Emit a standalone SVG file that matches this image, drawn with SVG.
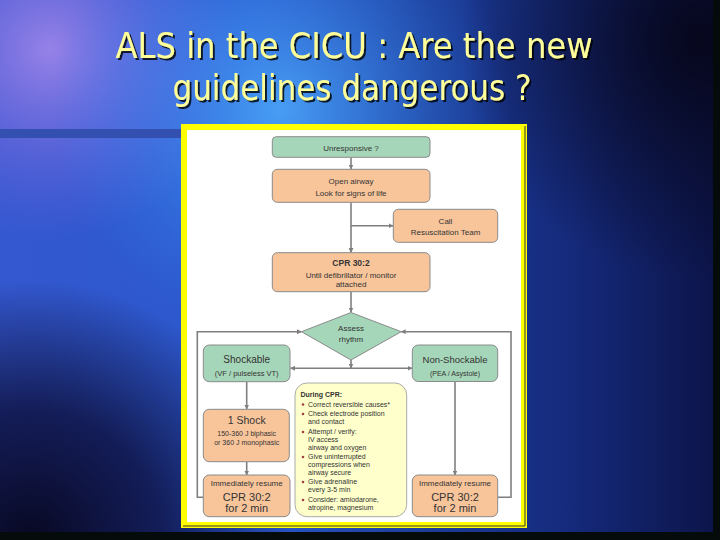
<svg xmlns="http://www.w3.org/2000/svg" width="720" height="540" viewBox="0 0 720 540">
<defs>
<linearGradient id="bg" x1="0" y1="0" x2="1" y2="0">
<stop offset="0" stop-color="#3458d0"/>
<stop offset="0.35" stop-color="#2a58cc"/>
<stop offset="0.6" stop-color="#1c3c98"/>
<stop offset="0.8" stop-color="#15297a"/>
<stop offset="1" stop-color="#0c1448"/>
</linearGradient>
<radialGradient id="purple" cx="50" cy="50" r="190" gradientUnits="userSpaceOnUse">
<stop offset="0" stop-color="#b890f0" stop-opacity="0.75"/>
<stop offset="1" stop-color="#8060e0" stop-opacity="0"/>
</radialGradient>
<radialGradient id="cyan" cx="280" cy="110" r="230" gradientUnits="userSpaceOnUse">
<stop offset="0" stop-color="#50b0ff" stop-opacity="0.8"/>
<stop offset="1" stop-color="#3080f0" stop-opacity="0"/>
</radialGradient>
<radialGradient id="darkbl" cx="30" cy="540" r="260" gradientUnits="userSpaceOnUse">
<stop offset="0" stop-color="#080822" stop-opacity="1"/>
<stop offset="0.5" stop-color="#0c0e3a" stop-opacity="0.8"/>
<stop offset="1" stop-color="#0a0a30" stop-opacity="0"/>
</radialGradient>
<radialGradient id="darktr" cx="700" cy="40" r="240" gradientUnits="userSpaceOnUse">
<stop offset="0" stop-color="#06061a" stop-opacity="0.95"/>
<stop offset="1" stop-color="#06061a" stop-opacity="0"/>
</radialGradient>
<marker id="ah" viewBox="0 0 10 10" refX="9" refY="5" markerWidth="5" markerHeight="5" orient="auto" markerUnits="userSpaceOnUse">
<path d="M0,0 L10,5 L0,10 z" fill="#7f7f7f"/>
</marker>
<filter id="sh" x="-5%" y="-20%" width="110%" height="140%">
<feDropShadow dx="2" dy="2" stdDeviation="0.6" flood-color="#000" flood-opacity="0.8"/>
</filter>
</defs>
<style>
.t{font-family:"Liberation Sans",Arial,sans-serif;fill:#333;text-anchor:middle}
.l{font-family:"Liberation Sans",Arial,sans-serif;fill:#333;font-size:7px}
.g{fill:#a6d6b9;stroke:#8a8a8a;stroke-width:1}
.o{fill:#f8c59b;stroke:#8a8a8a;stroke-width:1}
.y{fill:#ffffcc;stroke:#aaaaaa;stroke-width:1}
.c{fill:none;stroke:#7f7f7f;stroke-width:1.6}
.title{font-family:"DejaVu Sans Condensed","DejaVu Sans",sans-serif;font-size:35px;fill:#ffff99;text-anchor:middle}
</style>
<rect width="720" height="540" fill="url(#bg)"/>
<rect width="720" height="540" fill="url(#purple)"/>
<rect width="720" height="540" fill="url(#cyan)"/>
<rect width="720" height="540" fill="url(#darkbl)"/>
<rect width="720" height="540" fill="url(#darktr)"/>
<rect x="0" y="532" width="720" height="8" fill="#050a0a"/>
<rect x="713" y="0" width="7" height="540" fill="#050a0a"/>
<rect x="0" y="129" width="181" height="9" fill="#3350b0"/>

<g id="title" filter="url(#sh)">
<text class="title" x="354" y="58" textLength="477" lengthAdjust="spacingAndGlyphs">ALS in the CICU : Are the new</text>
<text class="title" x="352" y="100" textLength="359" lengthAdjust="spacingAndGlyphs">guidelines dangerous ?</text>
</g>

<g id="frame">
<rect x="181" y="124" width="346" height="404" fill="#ffff00"/>
<path d="M525,126 V526 H183" fill="none" stroke="#333" stroke-width="1"/>
<rect x="187" y="130" width="334" height="392" fill="#ffffff"/>
</g>

<g id="connectors">
<line class="c" x1="351" y1="157.5" x2="351" y2="169" marker-end="url(#ah)"/>
<line class="c" x1="351" y1="202.5" x2="351" y2="252.5" marker-end="url(#ah)"/>
<line class="c" x1="351" y1="225.7" x2="393" y2="225.7" marker-end="url(#ah)"/>
<line class="c" x1="351" y1="291.7" x2="351" y2="312" marker-end="url(#ah)"/>
<line class="c" x1="351" y1="360" x2="351" y2="368" marker-end="url(#ah)"/>
<line class="c" x1="351" y1="368.3" x2="290.5" y2="368.3" marker-end="url(#ah)"/>
<line class="c" x1="351" y1="368.3" x2="412" y2="368.3" marker-end="url(#ah)"/>
<line class="c" x1="246.7" y1="381.7" x2="246.7" y2="409" marker-end="url(#ah)"/>
<line class="c" x1="246.7" y1="461.7" x2="246.7" y2="475" marker-end="url(#ah)"/>
<line class="c" x1="455" y1="381.5" x2="455" y2="475" marker-end="url(#ah)"/>
<polyline class="c" points="203,497.3 197.3,497.3 197.3,331.7 301.5,331.7" marker-end="url(#ah)"/>
<polyline class="c" points="497.7,497.3 511,497.3 511,331.7 401.2,331.7" marker-end="url(#ah)"/>
</g>

<g id="unresponsive">
<rect class="g" x="272.3" y="136.7" width="157.7" height="20.6" rx="4"/>
<text class="t" x="351" y="151" font-size="8">Unresponsive ?</text>
</g>
<g id="open-airway">
<rect class="o" x="272.3" y="169.3" width="157.7" height="33" rx="5"/>
<text class="t" x="351" y="183.5" font-size="8">Open airway</text>
<text class="t" x="351" y="195.5" font-size="8">Look for signs of life</text>
</g>
<g id="call-team">
<rect class="o" x="393.3" y="209.3" width="104.4" height="33" rx="5"/>
<text class="t" x="445.5" y="223.5" font-size="8">Call</text>
<text class="t" x="445.5" y="235" font-size="8">Resuscitation Team</text>
</g>
<g id="cpr">
<rect class="o" x="272.3" y="252.7" width="157.7" height="39" rx="5"/>
<text class="t" x="351" y="266" font-size="8.5" font-weight="bold">CPR 30:2</text>
<text class="t" x="351" y="277.5" font-size="8">Until defibrillator / monitor</text>
<text class="t" x="351" y="287" font-size="8">attached</text>
</g>
<g id="assess">
<polygon class="g" points="351,312.5 401.2,331.7 351,360 301.5,331.7"/>
<text class="t" x="351" y="331" font-size="8">Assess</text>
<text class="t" x="351" y="342" font-size="8">rhythm</text>
</g>
<g id="shockable">
<rect class="g" x="203.3" y="345" width="86.7" height="36.7" rx="6"/>
<text class="t" x="246.7" y="362.5" font-size="10">Shockable</text>
<text class="t" x="246.7" y="376" font-size="7.5">(VF / pulseless VT)</text>
</g>
<g id="non-shockable">
<rect class="g" x="412.3" y="345" width="85.4" height="36.5" rx="6"/>
<text class="t" x="455" y="362.5" font-size="9.5">Non-Shockable</text>
<text class="t" x="455" y="376" font-size="7">(PEA / Asystole)</text>
</g>
<g id="during-cpr">
<rect class="y" x="295" y="383" width="111.7" height="133.7" rx="12"/>
<text class="l" x="300.5" y="397" font-weight="bold" font-size="7.5">During CPR:</text>
<g fill="#a04040">
<circle cx="303" cy="404.5" r="1.3"/><circle cx="303" cy="414" r="1.3"/><circle cx="303" cy="432" r="1.3"/>
<circle cx="303" cy="457" r="1.3"/><circle cx="303" cy="482" r="1.3"/><circle cx="303" cy="500" r="1.3"/>
</g>
<text class="l" x="308" y="406.5">Correct reversible causes*</text>
<text class="l" x="308" y="416">Check electrode position</text>
<text class="l" x="308" y="424">and contact</text>
<text class="l" x="308" y="434">Attempt / verify:</text>
<text class="l" x="308" y="442">IV access</text>
<text class="l" x="308" y="449.5">airway and oxygen</text>
<text class="l" x="308" y="459">Give uninterrupted</text>
<text class="l" x="308" y="467">compressions when</text>
<text class="l" x="308" y="474.5">airway secure</text>
<text class="l" x="308" y="484">Give adrenaline</text>
<text class="l" x="308" y="492">every 3-5 min</text>
<text class="l" x="308" y="502">Consider: amiodarone,</text>
<text class="l" x="308" y="509.5">atropine, magnesium</text>
</g>
<g id="one-shock">
<rect class="o" x="203.3" y="409.3" width="86" height="52.4" rx="6"/>
<text class="t" x="246.7" y="424" font-size="10.5">1 Shock</text>
<text class="t" x="246.7" y="436" font-size="7">150-360 J biphasic</text>
<text class="t" x="246.7" y="444.5" font-size="7">or 360 J monophasic</text>
</g>
<g id="resume-left">
<rect class="o" x="203.3" y="475" width="86.7" height="41.7" rx="6"/>
<text class="t" x="246.7" y="485.5" font-size="8">Immediately resume</text>
<text class="t" x="246.7" y="500.5" font-size="11">CPR 30:2</text>
<text class="t" x="246.7" y="512" font-size="11">for 2 min</text>
</g>
<g id="resume-right">
<rect class="o" x="412.3" y="475" width="85.4" height="41.7" rx="6"/>
<text class="t" x="455" y="485.5" font-size="8">Immediately resume</text>
<text class="t" x="455" y="500.5" font-size="11">CPR 30:2</text>
<text class="t" x="455" y="512" font-size="11">for 2 min</text>
</g>
</svg>
